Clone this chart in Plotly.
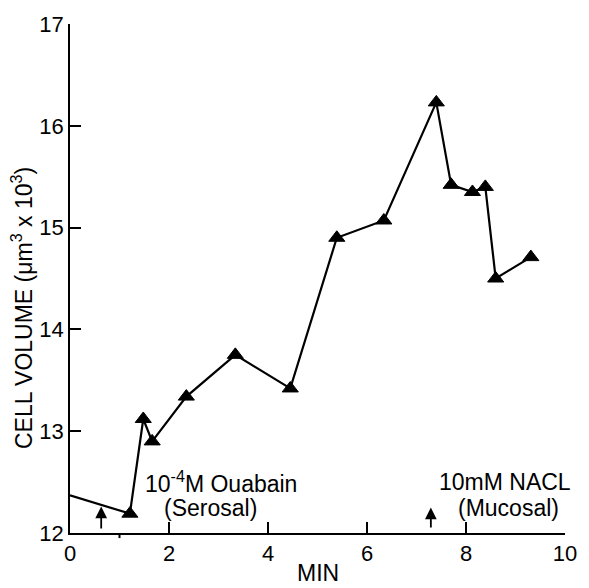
import plotly.graph_objects as go

# Data
time_min = [0, 1.21, 1.48, 1.66, 2.35, 3.34, 4.45, 5.39, 6.34, 7.40, 7.70, 8.13, 8.39, 8.60, 9.31]
cell_volume = [12.37, 12.19, 13.12, 12.90, 13.34, 13.75, 13.42, 14.90, 15.07, 16.23, 15.42, 15.35, 15.40, 14.50, 14.71]
marker_sizes = [0] + [14] * (len(time_min) - 1)

x_ticks = [0, 2, 4, 6, 8, 10]
y_ticks = [12, 13, 14, 15, 16, 17]

arrow_x = [0.63, 7.29]
arrow_head_y = [12.26, 12.25]
arrow_tail_y = [12.03, 12.04]

labels = [
    ("10<sup>-4</sup>M Ouabain", 3.06, 12.50),
    ("(Serosal)", 2.83, 12.25),
    ("10mM NACL", 8.79, 12.50),
    ("(Mucosal)", 8.85, 12.25),
]

FONT = "Liberation Sans, Arial, Helvetica, sans-serif"

fig = go.Figure()
fig.add_trace(go.Scatter(
    x=time_min, y=cell_volume, mode="lines+markers",
    line=dict(color="black", width=2.2),
    marker=dict(symbol="triangle-up", size=marker_sizes, color="#000000",
                opacity=1, line=dict(color="#000000", width=1)),
    opacity=1, showlegend=False, cliponaxis=False,
))

annotations = []
for ax_, hy, ty in zip(arrow_x, arrow_head_y, arrow_tail_y):
    annotations.append(dict(
        x=ax_, y=hy, ax=ax_, ay=ty, xref="x", yref="y", axref="x", ayref="y",
        text="", showarrow=True, arrowhead=2, arrowsize=1.3, arrowwidth=1.8,
        arrowcolor="black",
    ))
for txt, lx, ly in labels:
    annotations.append(dict(
        x=lx, y=ly, xref="x", yref="y", text=txt, showarrow=False,
        xanchor="center", yanchor="middle",
        font=dict(family=FONT, size=23, color="black"),
    ))
# axis titles
annotations.append(dict(
    x=-0.098, y=0.443, xref="paper", yref="paper",
    text="CELL VOLUME (μm<sup>3</sup> x 10<sup>3</sup>)", textangle=-90,
    showarrow=False, xanchor="center", yanchor="middle",
    font=dict(family=FONT, size=23, color="black"),
))
annotations.append(dict(
    x=5, y=-0.078, xref="x", yref="paper", text="MIN", showarrow=False,
    xanchor="center", yanchor="middle",
    font=dict(family=FONT, size=23, color="black"),
))

# small stray mark below the axis near 1 min
shapes = [dict(type="line", xref="x", yref="paper", x0=1.0, x1=1.0,
               y0=0, y1=-0.01, line=dict(color="black", width=2))]

fig.update_layout(
    width=589, height=588,
    margin=dict(l=70, r=13, t=18, b=55),
    paper_bgcolor="white", plot_bgcolor="rgba(0,0,0,0)",
    font=dict(family=FONT, size=22, color="black"),
    annotations=annotations,
    shapes=shapes,
)
fig.update_xaxes(
    range=[0, 10], tickvals=x_ticks, ticktext=[str(v) for v in x_ticks],
    ticks="inside", ticklen=11, tickwidth=2, tickcolor="#000000",
    showline=True, linecolor="black", linewidth=1.5,
    showgrid=False, zeroline=False, layer="above traces",
)
fig.update_yaxes(
    range=[12, 17], tickvals=y_ticks, ticktext=[str(v) for v in y_ticks],
    ticks="inside", ticklen=11, tickwidth=2, tickcolor="#000000",
    showline=True, linecolor="black", linewidth=1.5,
    showgrid=False, zeroline=False, layer="above traces",
)

fig.write_html("out.html")
